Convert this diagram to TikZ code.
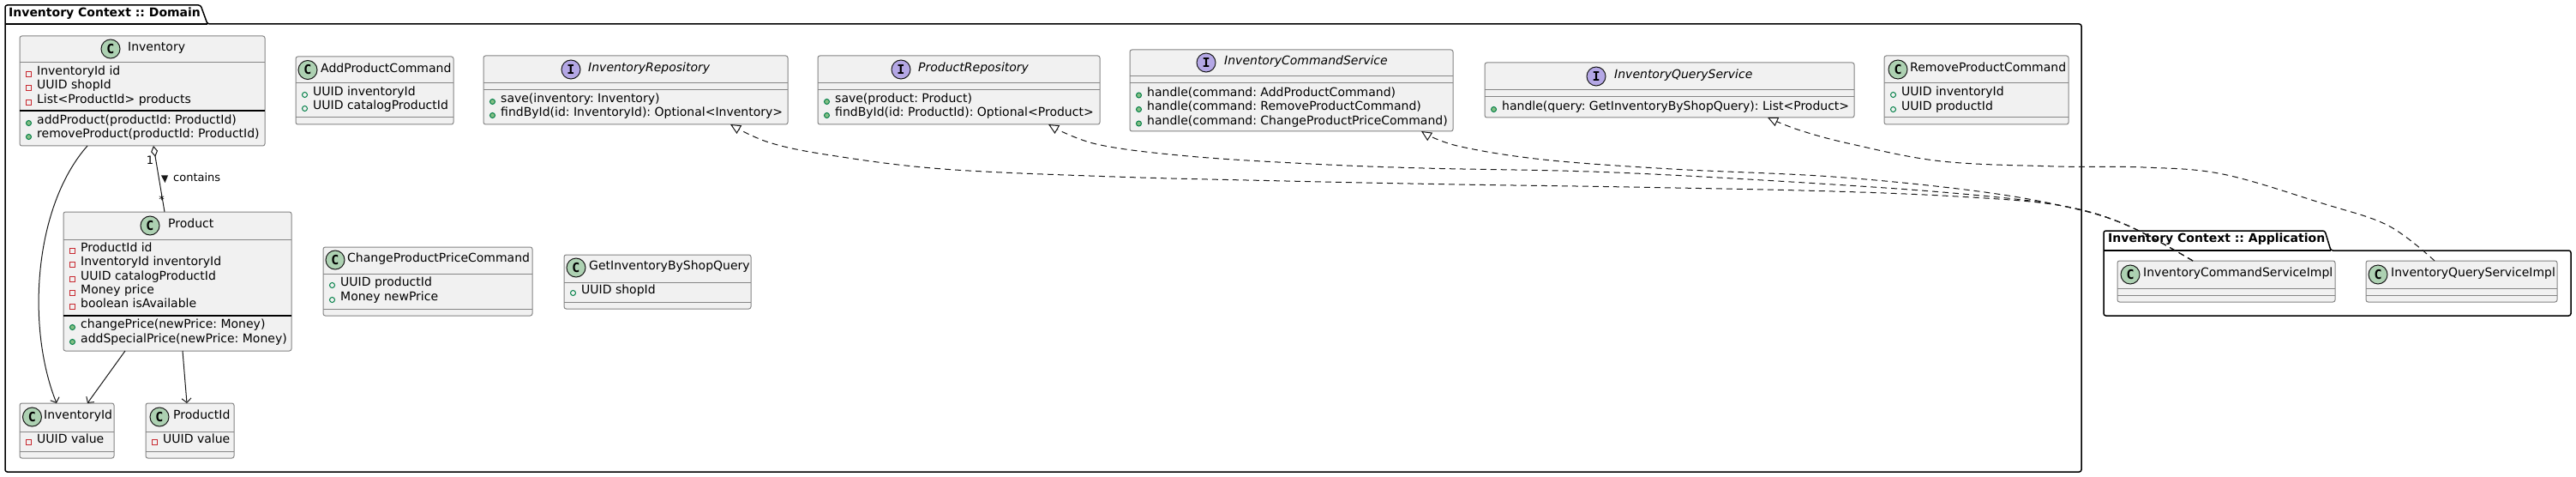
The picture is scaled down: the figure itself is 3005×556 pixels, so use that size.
\documentclass[tikz,border=0pt]{standalone}
\usepackage{fontspec}
\setmainfont{DejaVu Sans}
\newfontfamily\iconfont{DejaVu Sans Mono}
\usetikzlibrary{arrows.meta,calc}
\frenchspacing
\definecolor{boxfill}{HTML}{F1F1F1}
\definecolor{boxline}{HTML}{858585}
\definecolor{cgreen}{HTML}{ADD1B2}
\definecolor{ipurple}{HTML}{B4A7E5}
\definecolor{privred}{HTML}{C82930}
\definecolor{pubgreen}{HTML}{038048}
\definecolor{pubfill}{HTML}{84BE84}
\definecolor{ink}{HTML}{181818}
\tikzset{
 umlbox/.style={draw=boxline, fill=boxfill, line width=1pt, rounded corners=2.5pt, inner sep=0pt, outer sep=0pt, anchor=north west},
 sepline/.style={draw=boxline, line width=1pt},
 userline/.style={draw=black, line width=1.2pt},
 txt/.style={inner sep=0pt, anchor=mid west, font=\fontsize{14}{16}\selectfont\frenchspacing, text=black},
 ititle/.style={txt, font=\fontsize{14}{16}\selectfont\itshape},
 lbl/.style={inner sep=0pt, font=\fontsize{13}{15}\selectfont, text=black},
 pkg/.style={draw=black, line width=1.5pt},
 pkgtitle/.style={inner sep=0pt, anchor=mid west, font=\fontsize{14}{16}\selectfont\bfseries\frenchspacing},
 cicon/.style={circle, draw=ink, fill=cgreen, line width=1pt, minimum size=22pt, inner sep=0pt, font=\iconfont\fontsize{15}{15}\selectfont\bfseries},
 iicon/.style={cicon, fill=ipurple},
 privicon/.style={draw=privred, line width=1pt},
 pubfield/.style={draw=pubgreen, line width=1pt},
 pubmeth/.style={draw=pubgreen, fill=pubfill, line width=1pt},
 dep/.style={draw=ink, line width=1pt, -{Straight Barb[length=5pt,width=11pt]}},
 aggr/.style={draw=ink, line width=1pt, {Diamond[fill=white,length=13pt,width=8pt]}-},
 real/.style={draw=ink, line width=1pt, dash pattern=on 7pt off 5pt, -{Triangle[fill=white,length=12pt,width=11pt]}},
}
\newcommand\umlBox[5]{\node[umlbox, minimum width=#4pt, minimum height=#5pt] (#1) at (#2,#3) {};}
\newcommand\umlSep[2]{\draw[sepline] (#1.west |- 0,#2) -- (#1.east |- 0,#2);}
\newcommand\umlUserSep[2]{\draw[userline] (#1.west |- 0,#2) -- (#1.east |- 0,#2);}
\newcommand\umlCHead[5]{\node[cicon] (#1-icon) at (#2,#3) {C};\node[txt] (#1-name) at (#4,#3) {#5};}
\newcommand\umlIHead[5]{\node[iicon] (#1-icon) at (#2,#3) {I};\node[ititle] (#1-name) at (#4,#3) {#5};}
\newcommand\umlPriv[4]{\draw[privicon] (#2+7.5,#3-1.5) rectangle (#2+13.5,#3+4.5);\node[txt] (#1) at (#2+20,#3) {#4};}
\newcommand\umlPubF[4]{\draw[pubfield] (#2+10.5,#3+1.5) circle[radius=3];\node[txt] (#1) at (#2+20,#3) {#4};}
\newcommand\umlPubM[4]{\draw[pubmeth] (#2+10.5,#3+1.5) circle[radius=3];\node[txt] (#1) at (#2+20,#3) {#4};}
\begin{document}
\begin{tikzpicture}[x=1pt,y=-1pt]
\useasboundingbox (0,0) rectangle (3005,556);
\fill[white] (0,0) rectangle (3005,556);

% packages
\draw[pkg, rounded corners=2.5pt] (6,6) -- (234,6) -- (242,28) -- (2428,28) -- (2428,550) -- (6,550) -- cycle;
\draw[pkg] (6,28) -- (242,28);
\node[pkgtitle] (dom-title) at (10,17) {Inventory Context :: Domain};
\draw[pkg, rounded corners=2.5pt] (2454,269) -- (2712,269) -- (2719,292) -- (2999,292) -- (2999,368) -- (2454,368) -- cycle;
\draw[pkg] (2454,292) -- (2719,292);
\node[pkgtitle] (app-title) at (2459,280) {Inventory Context :: Application};

% Inventory
\umlBox{inv}{23}{42}{286}{128}
\umlCHead{inv}{129}{57}{149}{Inventory}
\umlSep{inv}{73}
\umlPriv{inv-a1}{23}{85}{InventoryId id}
\umlPriv{inv-a2}{23}{101}{UUID shopId}
\umlPriv{inv-a3}{23}{118}{List<ProductId> products}
\umlUserSep{inv}{129}
\umlPubM{inv-m1}{23}{142}{addProduct(productId: ProductId)}
\umlPubM{inv-m2}{23}{158}{removeProduct(productId: ProductId)}

% AddProductCommand
\umlBox{apc}{345}{66}{184}{79}
\umlCHead{apc}{359}{81.5}{374}{AddProductCommand}
\umlSep{apc}{97}
\umlPubF{apc-a1}{345}{109}{UUID inventoryId}
\umlPubF{apc-a2}{345}{125}{UUID catalogProductId}
\umlSep{apc}{137}

% InventoryRepository
\umlBox{invrepo}{564}{65}{355}{80}
\umlIHead{invrepo}{666}{81}{686}{InventoryRepository}
\umlSep{invrepo}{97}
\umlSep{invrepo}{105}
\umlPubM{invrepo-m1}{564}{117}{save(inventory: Inventory)}
\umlPubM{invrepo-m2}{564}{133}{findById(id: InventoryId): Optional<Inventory>}

% ProductRepository
\umlBox{prodrepo}{954}{65}{329}{80}
\umlIHead{prodrepo}{1051}{81}{1071}{ProductRepository}
\umlSep{prodrepo}{97}
\umlSep{prodrepo}{105}
\umlPubM{prodrepo-m1}{954}{117}{save(product: Product)}
\umlPubM{prodrepo-m2}{954}{133}{findById(id: ProductId): Optional<Product>}

% InventoryCommandService
\umlBox{icsvc}{1318}{58}{377}{95}
\umlIHead{icsvc}{1407}{73}{1428}{InventoryCommandService}
\umlSep{icsvc}{89}
\umlSep{icsvc}{97}
\umlPubM{icsvc-m1}{1318}{109.5}{handle(command: AddProductCommand)}
\umlPubM{icsvc-m2}{1318}{126}{handle(command: RemoveProductCommand)}
\umlPubM{icsvc-m3}{1318}{142.5}{handle(command: ChangeProductPriceCommand)}

% InventoryQueryService
\umlBox{iqsvc}{1732}{73}{431}{64}
\umlIHead{iqsvc}{1862}{89}{1883}{InventoryQueryService}
\umlSep{iqsvc}{105}
\umlSep{iqsvc}{113}
\umlPubM{iqsvc-m1}{1732}{126}{handle(query: GetInventoryByShopQuery): List<Product>}

% RemoveProductCommand
\umlBox{rpc}{2198}{65}{215}{80}
\umlCHead{rpc}{2214}{81}{2228}{RemoveProductCommand}
\umlSep{rpc}{97}
\umlPubF{rpc-a1}{2198}{109}{UUID inventoryId}
\umlPubF{rpc-a2}{2198}{126}{UUID productId}
\umlSep{rpc}{137}

% Product
\umlBox{prod}{74}{247}{266}{162}
\umlCHead{prod}{175}{263}{196}{Product}
\umlSep{prod}{279}
\umlPriv{prod-a1}{74}{291}{ProductId id}
\umlPriv{prod-a2}{74}{307}{InventoryId inventoryId}
\umlPriv{prod-a3}{74}{324}{UUID catalogProductId}
\umlPriv{prod-a4}{74}{340}{Money price}
\umlPriv{prod-a5}{74}{356}{boolean isAvailable}
\umlUserSep{prod}{368}
\umlPubM{prod-m1}{74}{380}{changePrice(newPrice: Money)}
\umlPubM{prod-m2}{74}{397}{addSpecialPrice(newPrice: Money)}

% ChangeProductPriceCommand
\umlBox{cppc}{377}{288}{244}{80}
\umlCHead{cppc}{391}{303}{405}{ChangeProductPriceCommand}
\umlSep{cppc}{319}
\umlPubF{cppc-a1}{377}{331}{UUID productId}
\umlPubF{cppc-a2}{377}{348}{Money newPrice}
\umlSep{cppc}{360}

% GetInventoryByShopQuery
\umlBox{gibsq}{658}{297}{218}{63}
\umlCHead{gibsq}{672}{312}{687}{GetInventoryByShopQuery}
\umlSep{gibsq}{329}
\umlPubF{gibsq-a1}{658}{340}{UUID shopId}
\umlSep{gibsq}{352}

% InventoryId
\umlBox{invid}{23}{470}{110}{64}
\umlCHead{invid}{37.5}{486}{51}{InventoryId}
\umlSep{invid}{503}
\umlPriv{invid-a1}{23}{514}{UUID value}
\umlSep{invid}{526}

% ProductId
\umlBox{pid}{170}{470}{103}{64}
\umlCHead{pid}{186}{486}{202}{ProductId}
\umlSep{pid}{503}
\umlPriv{pid-a1}{170}{514}{UUID value}
\umlSep{pid}{526}

% Application classes
\umlBox{icsi}{2470}{304}{254}{48}
\umlCHead{icsi}{2485}{320}{2500}{InventoryCommandServiceImpl}
\umlSep{icsi}{336}
\umlSep{icsi}{344}
\umlBox{iqsi}{2760}{304}{223}{48}
\umlCHead{iqsi}{2774}{320}{2789}{InventoryQueryServiceImpl}
\umlSep{iqsi}{336}
\umlSep{iqsi}{344}

% dependencies
\draw[dep] ($(inv.south west)+(79,0)$) .. controls (40,240) and (30,380) .. ($(invid.north west)+(43,0)$);
\draw[dep] ($(prod.south west)+(72,0)$) -- ($(invid.north west)+(79,0)$);
\draw[dep] ($(prod.south west)+(139,0)$) -- ($(pid.north west)+(48,0)$);

% aggregation
\draw[aggr] ($(inv.south west)+(156,0)$) -- ($(prod.north west)+(118,0)$);
\node[lbl] (agg-one) at (175,187) {1};
\node[lbl] (agg-many) at (188.5,232.5) {*};
\fill[ink] (188,204.5) -- (196,204.5) -- (192.5,213) -- cycle;
\node[lbl, anchor=mid west] (agg-label) at (202,209) {contains};

% realizations
\coordinate (ra) at ($(invrepo.south west)+(288,0)$);
\coordinate (rb) at ($(prodrepo.south west)+(269,0)$);
\coordinate (rc) at ($(icsvc.south west)+(340,0)$);
\coordinate (rd) at ($(iqsvc.south west)+(330,0)$);
\coordinate (sc) at ($(icsi.north west)+(88,0)$);
\coordinate (sd) at ($(iqsi.north west)+(80,0)$);
\draw[real] plot[smooth, tension=0.6] coordinates {(sc) (2480,262) (2406,240) (2300,230) (2138,223) (1900,218) (1700,215) (1500,211) (1300,206) (1100,197) (969,181) (897,166) (ra)};
\draw[real] plot[smooth, tension=0.6] coordinates {(sc) (2480,262) (2406,240) (2300,227) (2138,215) (1883,201) (1660,196) (1529,191) (1386,182) (1279,168) (rb)};
\draw[real] plot[smooth, tension=0.6] coordinates {(sc) (2480,262) (2406,240) (2300,222) (2138,206) (1950,197) (1800,186) (1700,170) (rc)};
\draw[real] plot[smooth, tension=0.6] coordinates {(sd) (2786,263) (2709,237) (2593,203) (2500,195) (2400,194) (2265,188) (2160,168) (2100,152) (rd)};
\end{tikzpicture}
\end{document}
